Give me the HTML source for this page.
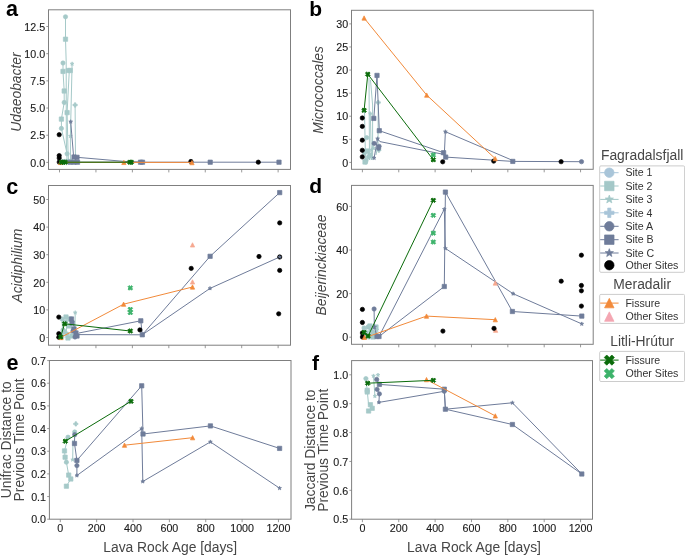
<!DOCTYPE html>
<html><head><meta charset="utf-8"><style>
html,body{margin:0;padding:0;background:#fff;}
svg{display:block;will-change:transform;filter:blur(0.35px);}
text{font-family:"Liberation Sans",sans-serif;}
.tk{font-size:10.7px;fill:#1a1a1a;stroke:#1a1a1a;stroke-width:0.12px;}
.pl{font-size:21px;font-weight:bold;fill:#000;}
.yl{font-size:13.85px;fill:#464646;}
.it{font-style:italic;}
.lt{font-size:13.85px;fill:#464646;}
.lg{font-size:10.6px;fill:#333333;}
</style></head><body>
<svg width="685" height="555" viewBox="0 0 685 555">
<rect width="685" height="555" fill="#fff"/>
<rect x="48.5" y="9.8" width="242" height="159.6" fill="none" stroke="#7f7f7f" stroke-width="1"/>
<line x1="46.3" y1="162.4" x2="48.5" y2="162.4" stroke="#7f7f7f" stroke-width="0.8"/>
<text x="45.1" y="166.63" text-anchor="end" class="tk">0.0</text>
<line x1="46.3" y1="135.22" x2="48.5" y2="135.22" stroke="#7f7f7f" stroke-width="0.8"/>
<text x="45.1" y="139.45" text-anchor="end" class="tk">2.5</text>
<line x1="46.3" y1="108.04" x2="48.5" y2="108.04" stroke="#7f7f7f" stroke-width="0.8"/>
<text x="45.1" y="112.27" text-anchor="end" class="tk">5.0</text>
<line x1="46.3" y1="80.86" x2="48.5" y2="80.86" stroke="#7f7f7f" stroke-width="0.8"/>
<text x="45.1" y="85.09" text-anchor="end" class="tk">7.5</text>
<line x1="46.3" y1="53.68" x2="48.5" y2="53.68" stroke="#7f7f7f" stroke-width="0.8"/>
<text x="45.1" y="57.91" text-anchor="end" class="tk">10.0</text>
<line x1="46.3" y1="26.5" x2="48.5" y2="26.5" stroke="#7f7f7f" stroke-width="0.8"/>
<text x="45.1" y="30.73" text-anchor="end" class="tk">12.5</text>
<line x1="59.5" y1="169.4" x2="59.5" y2="172.4" stroke="#7f7f7f" stroke-width="0.8"/>
<line x1="95.94" y1="169.4" x2="95.94" y2="172.4" stroke="#7f7f7f" stroke-width="0.8"/>
<line x1="132.38" y1="169.4" x2="132.38" y2="172.4" stroke="#7f7f7f" stroke-width="0.8"/>
<line x1="168.82" y1="169.4" x2="168.82" y2="172.4" stroke="#7f7f7f" stroke-width="0.8"/>
<line x1="205.26" y1="169.4" x2="205.26" y2="172.4" stroke="#7f7f7f" stroke-width="0.8"/>
<line x1="241.7" y1="169.4" x2="241.7" y2="172.4" stroke="#7f7f7f" stroke-width="0.8"/>
<line x1="278.14" y1="169.4" x2="278.14" y2="172.4" stroke="#7f7f7f" stroke-width="0.8"/>
<rect x="351.5" y="10.3" width="241.7" height="159" fill="none" stroke="#7f7f7f" stroke-width="1"/>
<line x1="349.3" y1="162.4" x2="351.5" y2="162.4" stroke="#7f7f7f" stroke-width="0.8"/>
<text x="348.1" y="166.63" text-anchor="end" class="tk">0</text>
<line x1="349.3" y1="139.31" x2="351.5" y2="139.31" stroke="#7f7f7f" stroke-width="0.8"/>
<text x="348.1" y="143.55" text-anchor="end" class="tk">5</text>
<line x1="349.3" y1="116.23" x2="351.5" y2="116.23" stroke="#7f7f7f" stroke-width="0.8"/>
<text x="348.1" y="120.46" text-anchor="end" class="tk">10</text>
<line x1="349.3" y1="93.15" x2="351.5" y2="93.15" stroke="#7f7f7f" stroke-width="0.8"/>
<text x="348.1" y="97.38" text-anchor="end" class="tk">15</text>
<line x1="349.3" y1="70.06" x2="351.5" y2="70.06" stroke="#7f7f7f" stroke-width="0.8"/>
<text x="348.1" y="74.29" text-anchor="end" class="tk">20</text>
<line x1="349.3" y1="46.98" x2="351.5" y2="46.98" stroke="#7f7f7f" stroke-width="0.8"/>
<text x="348.1" y="51.21" text-anchor="end" class="tk">25</text>
<line x1="349.3" y1="23.89" x2="351.5" y2="23.89" stroke="#7f7f7f" stroke-width="0.8"/>
<text x="348.1" y="28.12" text-anchor="end" class="tk">30</text>
<line x1="362.4" y1="169.3" x2="362.4" y2="172.3" stroke="#7f7f7f" stroke-width="0.8"/>
<line x1="398.76" y1="169.3" x2="398.76" y2="172.3" stroke="#7f7f7f" stroke-width="0.8"/>
<line x1="435.12" y1="169.3" x2="435.12" y2="172.3" stroke="#7f7f7f" stroke-width="0.8"/>
<line x1="471.48" y1="169.3" x2="471.48" y2="172.3" stroke="#7f7f7f" stroke-width="0.8"/>
<line x1="507.84" y1="169.3" x2="507.84" y2="172.3" stroke="#7f7f7f" stroke-width="0.8"/>
<line x1="544.2" y1="169.3" x2="544.2" y2="172.3" stroke="#7f7f7f" stroke-width="0.8"/>
<line x1="580.56" y1="169.3" x2="580.56" y2="172.3" stroke="#7f7f7f" stroke-width="0.8"/>
<rect x="48.5" y="185.5" width="242" height="159.7" fill="none" stroke="#7f7f7f" stroke-width="1"/>
<line x1="46.3" y1="337.5" x2="48.5" y2="337.5" stroke="#7f7f7f" stroke-width="0.8"/>
<text x="45.1" y="341.73" text-anchor="end" class="tk">0</text>
<line x1="46.3" y1="309.9" x2="48.5" y2="309.9" stroke="#7f7f7f" stroke-width="0.8"/>
<text x="45.1" y="314.13" text-anchor="end" class="tk">10</text>
<line x1="46.3" y1="282.3" x2="48.5" y2="282.3" stroke="#7f7f7f" stroke-width="0.8"/>
<text x="45.1" y="286.53" text-anchor="end" class="tk">20</text>
<line x1="46.3" y1="254.7" x2="48.5" y2="254.7" stroke="#7f7f7f" stroke-width="0.8"/>
<text x="45.1" y="258.93" text-anchor="end" class="tk">30</text>
<line x1="46.3" y1="227.1" x2="48.5" y2="227.1" stroke="#7f7f7f" stroke-width="0.8"/>
<text x="45.1" y="231.33" text-anchor="end" class="tk">40</text>
<line x1="46.3" y1="199.5" x2="48.5" y2="199.5" stroke="#7f7f7f" stroke-width="0.8"/>
<text x="45.1" y="203.73" text-anchor="end" class="tk">50</text>
<line x1="59.5" y1="345.2" x2="59.5" y2="348.2" stroke="#7f7f7f" stroke-width="0.8"/>
<line x1="95.94" y1="345.2" x2="95.94" y2="348.2" stroke="#7f7f7f" stroke-width="0.8"/>
<line x1="132.38" y1="345.2" x2="132.38" y2="348.2" stroke="#7f7f7f" stroke-width="0.8"/>
<line x1="168.82" y1="345.2" x2="168.82" y2="348.2" stroke="#7f7f7f" stroke-width="0.8"/>
<line x1="205.26" y1="345.2" x2="205.26" y2="348.2" stroke="#7f7f7f" stroke-width="0.8"/>
<line x1="241.7" y1="345.2" x2="241.7" y2="348.2" stroke="#7f7f7f" stroke-width="0.8"/>
<line x1="278.14" y1="345.2" x2="278.14" y2="348.2" stroke="#7f7f7f" stroke-width="0.8"/>
<rect x="351.5" y="185.4" width="241.7" height="158.9" fill="none" stroke="#7f7f7f" stroke-width="1"/>
<line x1="349.3" y1="337.2" x2="351.5" y2="337.2" stroke="#7f7f7f" stroke-width="0.8"/>
<text x="348.1" y="341.43" text-anchor="end" class="tk">0</text>
<line x1="349.3" y1="293.6" x2="351.5" y2="293.6" stroke="#7f7f7f" stroke-width="0.8"/>
<text x="348.1" y="297.83" text-anchor="end" class="tk">20</text>
<line x1="349.3" y1="250" x2="351.5" y2="250" stroke="#7f7f7f" stroke-width="0.8"/>
<text x="348.1" y="254.23" text-anchor="end" class="tk">40</text>
<line x1="349.3" y1="206.4" x2="351.5" y2="206.4" stroke="#7f7f7f" stroke-width="0.8"/>
<text x="348.1" y="210.63" text-anchor="end" class="tk">60</text>
<line x1="362.4" y1="344.3" x2="362.4" y2="347.3" stroke="#7f7f7f" stroke-width="0.8"/>
<line x1="398.76" y1="344.3" x2="398.76" y2="347.3" stroke="#7f7f7f" stroke-width="0.8"/>
<line x1="435.12" y1="344.3" x2="435.12" y2="347.3" stroke="#7f7f7f" stroke-width="0.8"/>
<line x1="471.48" y1="344.3" x2="471.48" y2="347.3" stroke="#7f7f7f" stroke-width="0.8"/>
<line x1="507.84" y1="344.3" x2="507.84" y2="347.3" stroke="#7f7f7f" stroke-width="0.8"/>
<line x1="544.2" y1="344.3" x2="544.2" y2="347.3" stroke="#7f7f7f" stroke-width="0.8"/>
<line x1="580.56" y1="344.3" x2="580.56" y2="347.3" stroke="#7f7f7f" stroke-width="0.8"/>
<rect x="49.4" y="360.5" width="241.6" height="158.7" fill="none" stroke="#7f7f7f" stroke-width="1"/>
<line x1="47.2" y1="519.2" x2="49.4" y2="519.2" stroke="#7f7f7f" stroke-width="0.8"/>
<text x="46" y="523.43" text-anchor="end" class="tk">0.0</text>
<line x1="47.2" y1="496.54" x2="49.4" y2="496.54" stroke="#7f7f7f" stroke-width="0.8"/>
<text x="46" y="500.77" text-anchor="end" class="tk">0.1</text>
<line x1="47.2" y1="473.88" x2="49.4" y2="473.88" stroke="#7f7f7f" stroke-width="0.8"/>
<text x="46" y="478.11" text-anchor="end" class="tk">0.2</text>
<line x1="47.2" y1="451.22" x2="49.4" y2="451.22" stroke="#7f7f7f" stroke-width="0.8"/>
<text x="46" y="455.45" text-anchor="end" class="tk">0.3</text>
<line x1="47.2" y1="428.56" x2="49.4" y2="428.56" stroke="#7f7f7f" stroke-width="0.8"/>
<text x="46" y="432.79" text-anchor="end" class="tk">0.4</text>
<line x1="47.2" y1="405.9" x2="49.4" y2="405.9" stroke="#7f7f7f" stroke-width="0.8"/>
<text x="46" y="410.13" text-anchor="end" class="tk">0.5</text>
<line x1="47.2" y1="383.24" x2="49.4" y2="383.24" stroke="#7f7f7f" stroke-width="0.8"/>
<text x="46" y="387.47" text-anchor="end" class="tk">0.6</text>
<line x1="47.2" y1="360.58" x2="49.4" y2="360.58" stroke="#7f7f7f" stroke-width="0.8"/>
<text x="46" y="364.81" text-anchor="end" class="tk">0.7</text>
<line x1="60.3" y1="519.2" x2="60.3" y2="522.2" stroke="#7f7f7f" stroke-width="0.8"/>
<text x="60.3" y="531.6" text-anchor="middle" class="tk">0</text>
<line x1="96.66" y1="519.2" x2="96.66" y2="522.2" stroke="#7f7f7f" stroke-width="0.8"/>
<text x="96.66" y="531.6" text-anchor="middle" class="tk">200</text>
<line x1="133.02" y1="519.2" x2="133.02" y2="522.2" stroke="#7f7f7f" stroke-width="0.8"/>
<text x="133.02" y="531.6" text-anchor="middle" class="tk">400</text>
<line x1="169.38" y1="519.2" x2="169.38" y2="522.2" stroke="#7f7f7f" stroke-width="0.8"/>
<text x="169.38" y="531.6" text-anchor="middle" class="tk">600</text>
<line x1="205.74" y1="519.2" x2="205.74" y2="522.2" stroke="#7f7f7f" stroke-width="0.8"/>
<text x="205.74" y="531.6" text-anchor="middle" class="tk">800</text>
<line x1="242.1" y1="519.2" x2="242.1" y2="522.2" stroke="#7f7f7f" stroke-width="0.8"/>
<text x="242.1" y="531.6" text-anchor="middle" class="tk">1000</text>
<line x1="278.46" y1="519.2" x2="278.46" y2="522.2" stroke="#7f7f7f" stroke-width="0.8"/>
<text x="278.46" y="531.6" text-anchor="middle" class="tk">1200</text>
<rect x="351.6" y="360.6" width="240.9" height="158.6" fill="none" stroke="#7f7f7f" stroke-width="1"/>
<line x1="349.4" y1="519.2" x2="351.6" y2="519.2" stroke="#7f7f7f" stroke-width="0.8"/>
<text x="348.2" y="523.43" text-anchor="end" class="tk">0.5</text>
<line x1="349.4" y1="490.32" x2="351.6" y2="490.32" stroke="#7f7f7f" stroke-width="0.8"/>
<text x="348.2" y="494.55" text-anchor="end" class="tk">0.6</text>
<line x1="349.4" y1="461.44" x2="351.6" y2="461.44" stroke="#7f7f7f" stroke-width="0.8"/>
<text x="348.2" y="465.67" text-anchor="end" class="tk">0.7</text>
<line x1="349.4" y1="432.56" x2="351.6" y2="432.56" stroke="#7f7f7f" stroke-width="0.8"/>
<text x="348.2" y="436.79" text-anchor="end" class="tk">0.8</text>
<line x1="349.4" y1="403.68" x2="351.6" y2="403.68" stroke="#7f7f7f" stroke-width="0.8"/>
<text x="348.2" y="407.91" text-anchor="end" class="tk">0.9</text>
<line x1="349.4" y1="374.8" x2="351.6" y2="374.8" stroke="#7f7f7f" stroke-width="0.8"/>
<text x="348.2" y="379.03" text-anchor="end" class="tk">1.0</text>
<line x1="362.4" y1="519.2" x2="362.4" y2="522.2" stroke="#7f7f7f" stroke-width="0.8"/>
<text x="362.4" y="531.6" text-anchor="middle" class="tk">0</text>
<line x1="398.76" y1="519.2" x2="398.76" y2="522.2" stroke="#7f7f7f" stroke-width="0.8"/>
<text x="398.76" y="531.6" text-anchor="middle" class="tk">200</text>
<line x1="435.12" y1="519.2" x2="435.12" y2="522.2" stroke="#7f7f7f" stroke-width="0.8"/>
<text x="435.12" y="531.6" text-anchor="middle" class="tk">400</text>
<line x1="471.48" y1="519.2" x2="471.48" y2="522.2" stroke="#7f7f7f" stroke-width="0.8"/>
<text x="471.48" y="531.6" text-anchor="middle" class="tk">600</text>
<line x1="507.84" y1="519.2" x2="507.84" y2="522.2" stroke="#7f7f7f" stroke-width="0.8"/>
<text x="507.84" y="531.6" text-anchor="middle" class="tk">800</text>
<line x1="544.2" y1="519.2" x2="544.2" y2="522.2" stroke="#7f7f7f" stroke-width="0.8"/>
<text x="544.2" y="531.6" text-anchor="middle" class="tk">1000</text>
<line x1="580.56" y1="519.2" x2="580.56" y2="522.2" stroke="#7f7f7f" stroke-width="0.8"/>
<text x="580.56" y="531.6" text-anchor="middle" class="tk">1200</text>
<text x="12.1" y="16" text-anchor="middle" class="pl" style="font-size:21.6px">a</text>
<text x="315.6" y="15.5" text-anchor="middle" class="pl" style="font-size:21px">b</text>
<text x="12.2" y="194.4" text-anchor="middle" class="pl" style="font-size:21.6px">c</text>
<text x="315.6" y="193.3" text-anchor="middle" class="pl" style="font-size:21px">d</text>
<text x="12.6" y="370.4" text-anchor="middle" class="pl" style="font-size:21.6px">e</text>
<text x="315.6" y="370.4" text-anchor="middle" class="pl" style="font-size:21px">f</text>
<text transform="translate(21.3 92) rotate(-90)" text-anchor="middle" class="yl it">Udaeobacter</text>
<text transform="translate(322.7 89.9) rotate(-90)" text-anchor="middle" class="yl it">Micrococcales</text>
<text transform="translate(22.2 265.6) rotate(-90)" text-anchor="middle" class="yl it">Acidiphilium</text>
<text transform="translate(325.7 265) rotate(-90)" text-anchor="middle" class="yl it">Beijerinckiaceae</text>
<text transform="translate(11 439.8) rotate(-90)" text-anchor="middle" class="yl">Unifrac Distance to</text>
<text transform="translate(24.2 439.9) rotate(-90)" text-anchor="middle" class="yl">Previous Time Point</text>
<text transform="translate(314.7 450.3) rotate(-90)" text-anchor="middle" class="yl">Jaccard Distance to</text>
<text transform="translate(328.1 450.3) rotate(-90)" text-anchor="middle" class="yl">Previous Time Point</text>
<text x="170.2" y="551.5" text-anchor="middle" class="yl">Lava Rock Age [days]</text>
<text x="474.0" y="551.5" text-anchor="middle" class="yl">Lava Rock Age [days]</text>
<text x="642.15" y="160" text-anchor="middle" class="lt">Fagradalsfjall</text>
<rect x="599.7" y="165.9" width="84.9" height="106.4" rx="1.2" fill="#fff" stroke="#cccccc" stroke-width="1"/>
<line x1="600.2" y1="172.7" x2="618.6" y2="172.7" stroke="#a9c5d9" stroke-width="1"/>
<circle cx="609.3" cy="172.7" r="4.73" fill="#a9c5d9" stroke="#a9c5d9" stroke-width="0.7"/>
<text x="625.4" y="176.4" class="lg">Site 1</text>
<line x1="600.2" y1="186" x2="618.6" y2="186" stroke="#a4c8c8" stroke-width="1"/>
<rect x="604.57" y="181.27" width="9.46" height="9.46" fill="#a4c8c8" stroke="#a4c8c8" stroke-width="0.7" stroke-linejoin="round"/>
<text x="625.4" y="189.7" class="lg">Site 2</text>
<line x1="600.2" y1="199.4" x2="618.6" y2="199.4" stroke="#a4c8c8" stroke-width="1"/>
<polygon points="609.3,195.05 610.37,197.92 613.44,198.06 611.04,199.96 611.86,202.92 609.3,201.23 606.74,202.92 607.56,199.96 605.16,198.06 608.23,197.92" fill="#a4c8c8" stroke="#a4c8c8" stroke-width="0.7" stroke-linejoin="round"/>
<text x="625.4" y="203.1" class="lg">Site 3</text>
<line x1="600.2" y1="212.8" x2="618.6" y2="212.8" stroke="#a9c5d9" stroke-width="1"/>
<polygon points="607.72,208.07 610.88,208.07 610.88,211.22 614.03,211.22 614.03,214.38 610.88,214.38 610.88,217.53 607.72,217.53 607.72,214.38 604.57,214.38 604.57,211.22 607.72,211.22" fill="#a9c5d9" stroke="#a9c5d9" stroke-width="0.7" stroke-linejoin="round"/>
<text x="625.4" y="216.5" class="lg">Site 4</text>
<line x1="600.2" y1="226.3" x2="618.6" y2="226.3" stroke="#6f7c9a" stroke-width="1"/>
<circle cx="609.3" cy="226.3" r="4.73" fill="#6f7c9a" stroke="#6f7c9a" stroke-width="0.7"/>
<text x="625.4" y="230" class="lg">Site A</text>
<line x1="600.2" y1="239.7" x2="618.6" y2="239.7" stroke="#6f7c9a" stroke-width="1"/>
<rect x="604.57" y="234.97" width="9.46" height="9.46" fill="#6f7c9a" stroke="#6f7c9a" stroke-width="0.7" stroke-linejoin="round"/>
<text x="625.4" y="243.4" class="lg">Site B</text>
<line x1="600.2" y1="253" x2="618.6" y2="253" stroke="#6f7c9a" stroke-width="1"/>
<polygon points="609.3,248.65 610.37,251.52 613.44,251.66 611.04,253.56 611.86,256.52 609.3,254.83 606.74,256.52 607.56,253.56 605.16,251.66 608.23,251.52" fill="#6f7c9a" stroke="#6f7c9a" stroke-width="0.7" stroke-linejoin="round"/>
<text x="625.4" y="256.7" class="lg">Site C</text>
<circle cx="609.3" cy="265.2" r="4.73" fill="#000000" stroke="#000000" stroke-width="0.7"/>
<text x="625.4" y="268.9" class="lg">Other Sites</text>
<text x="642.15" y="288.8" text-anchor="middle" class="lt">Meradalir</text>
<rect x="599.7" y="294.4" width="84.9" height="29" rx="1.2" fill="#fff" stroke="#cccccc" stroke-width="1"/>
<line x1="600.2" y1="303.1" x2="618.6" y2="303.1" stroke="#f28a3a" stroke-width="1"/>
<polygon points="609.3,298.37 614.03,307.83 604.57,307.83" fill="#f28a3a" stroke="#f28a3a" stroke-width="0.7" stroke-linejoin="round"/>
<text x="625.4" y="306.8" class="lg">Fissure</text>
<polygon points="609.3,311.87 614.03,321.33 604.57,321.33" fill="#f4a6b2" stroke="#f4a6b2" stroke-width="0.7" stroke-linejoin="round"/>
<text x="625.4" y="320.3" class="lg">Other Sites</text>
<text x="642.15" y="346" text-anchor="middle" class="lt">Litli-Hrútur</text>
<rect x="599.7" y="351.4" width="84.9" height="30.1" rx="1.2" fill="#fff" stroke="#cccccc" stroke-width="1"/>
<line x1="600.2" y1="360.1" x2="618.6" y2="360.1" stroke="#0a6b0a" stroke-width="1"/>
<polygon points="606.75,354.99 609.3,357.55 611.85,354.99 614.41,357.55 611.85,360.1 614.41,362.65 611.85,365.21 609.3,362.65 606.75,365.21 604.19,362.65 606.75,360.1 604.19,357.55" fill="#0a6b0a" stroke="#0a6b0a" stroke-width="0.7" stroke-linejoin="miter"/>
<text x="625.4" y="363.8" class="lg">Fissure</text>
<polygon points="606.75,368.49 609.3,371.05 611.85,368.49 614.41,371.05 611.85,373.6 614.41,376.15 611.85,378.71 609.3,376.15 606.75,378.71 604.19,376.15 606.75,373.6 604.19,371.05" fill="#3db36b" stroke="#3db36b" stroke-width="0.7" stroke-linejoin="miter"/>
<text x="625.4" y="377.3" class="lg">Other Sites</text>
<polyline points="65.5,16.8 65.5,39.2 66.2,62 66.3,140 67,160" fill="none" stroke="#a5c9c8" stroke-width="1.0" stroke-linejoin="round"/>
<polyline points="63,63 63,71.4 64.2,91 64.2,102.5 61.4,119.1 61.4,128.4 67.1,153.8" fill="none" stroke="#a5c9c8" stroke-width="1.0" stroke-linejoin="round"/>
<polyline points="69.3,70.5 67.1,112.6 68,150 68.5,162" fill="none" stroke="#a5c9c8" stroke-width="1.0" stroke-linejoin="round"/>
<polyline points="72.1,63.8 70.4,136.1 70.5,162" fill="none" stroke="#a5c9c8" stroke-width="1.0" stroke-linejoin="round"/>
<polyline points="75.1,105 75.5,160" fill="none" stroke="#a5c9c8" stroke-width="1.0" stroke-linejoin="round"/>
<rect x="59.85" y="159.85" width="4.3" height="4.3" fill="#a5c9c8" stroke="#a5c9c8" stroke-width="0.7" stroke-linejoin="round"/>
<rect x="63.85" y="159.35" width="4.3" height="4.3" fill="#a5c9c8" stroke="#a5c9c8" stroke-width="0.7" stroke-linejoin="round"/>
<rect x="68.35" y="159.35" width="4.3" height="4.3" fill="#a5c9c8" stroke="#a5c9c8" stroke-width="0.7" stroke-linejoin="round"/>
<circle cx="65.5" cy="16.8" r="2.15" fill="#a5c9c8" stroke="#a5c9c8" stroke-width="0.7"/>
<circle cx="63" cy="63" r="2.15" fill="#a5c9c8" stroke="#a5c9c8" stroke-width="0.7"/>
<circle cx="64.2" cy="102.5" r="2.15" fill="#a5c9c8" stroke="#a5c9c8" stroke-width="0.7"/>
<circle cx="61.4" cy="128.4" r="2.15" fill="#a5c9c8" stroke="#a5c9c8" stroke-width="0.7"/>
<circle cx="67.1" cy="153.8" r="2.15" fill="#a5c9c8" stroke="#a5c9c8" stroke-width="0.7"/>
<rect x="63.35" y="37.05" width="4.3" height="4.3" fill="#a5c9c8" stroke="#a5c9c8" stroke-width="0.7" stroke-linejoin="round"/>
<rect x="60.85" y="69.25" width="4.3" height="4.3" fill="#a5c9c8" stroke="#a5c9c8" stroke-width="0.7" stroke-linejoin="round"/>
<rect x="66.15" y="68.35" width="4.3" height="4.3" fill="#a5c9c8" stroke="#a5c9c8" stroke-width="0.7" stroke-linejoin="round"/>
<rect x="68.15" y="68.35" width="4.3" height="4.3" fill="#a5c9c8" stroke="#a5c9c8" stroke-width="0.7" stroke-linejoin="round"/>
<rect x="62.05" y="88.85" width="4.3" height="4.3" fill="#a5c9c8" stroke="#a5c9c8" stroke-width="0.7" stroke-linejoin="round"/>
<rect x="64.95" y="110.45" width="4.3" height="4.3" fill="#a5c9c8" stroke="#a5c9c8" stroke-width="0.7" stroke-linejoin="round"/>
<rect x="59.25" y="116.95" width="4.3" height="4.3" fill="#a5c9c8" stroke="#a5c9c8" stroke-width="0.7" stroke-linejoin="round"/>
<polygon points="72.1,61.82 72.59,63.13 73.98,63.19 72.89,64.06 73.26,65.4 72.1,64.63 70.94,65.4 71.31,64.06 70.22,63.19 71.61,63.13" fill="#a5c9c8" stroke="#a5c9c8" stroke-width="0.7" stroke-linejoin="round"/>
<polygon points="70.4,134.12 70.89,135.43 72.28,135.49 71.19,136.36 71.56,137.7 70.4,136.93 69.24,137.7 69.61,136.36 68.52,135.49 69.91,135.43" fill="#a5c9c8" stroke="#a5c9c8" stroke-width="0.7" stroke-linejoin="round"/>
<polygon points="74.38,102.85 75.82,102.85 75.82,104.28 77.25,104.28 77.25,105.72 75.82,105.72 75.82,107.15 74.38,107.15 74.38,105.72 72.95,105.72 72.95,104.28 74.38,104.28" fill="#a5c9c8" stroke="#a5c9c8" stroke-width="0.7" stroke-linejoin="round"/>
<polyline points="70.7,121.7 73.6,156.5 77,157.3 124.3,161.4 141.5,162.2" fill="none" stroke="#6f7c9a" stroke-width="1.0" stroke-linejoin="round"/>
<polyline points="70,162.2 279,162.2" fill="none" stroke="#6f7c9a" stroke-width="1.0" stroke-linejoin="round"/>
<polygon points="70.7,119.72 71.19,121.03 72.58,121.09 71.49,121.96 71.86,123.3 70.7,122.53 69.54,123.3 69.91,121.96 68.82,121.09 70.21,121.03" fill="#6f7c9a" stroke="#6f7c9a" stroke-width="0.7" stroke-linejoin="round"/>
<rect x="71.85" y="154.85" width="4.3" height="4.3" fill="#6f7c9a" stroke="#6f7c9a" stroke-width="0.7" stroke-linejoin="round"/>
<rect x="74.85" y="155.15" width="4.3" height="4.3" fill="#6f7c9a" stroke="#6f7c9a" stroke-width="0.7" stroke-linejoin="round"/>
<rect x="67.85" y="160.05" width="4.3" height="4.3" fill="#6f7c9a" stroke="#6f7c9a" stroke-width="0.7" stroke-linejoin="round"/>
<rect x="71.85" y="160.05" width="4.3" height="4.3" fill="#6f7c9a" stroke="#6f7c9a" stroke-width="0.7" stroke-linejoin="round"/>
<rect x="75.35" y="160.05" width="4.3" height="4.3" fill="#6f7c9a" stroke="#6f7c9a" stroke-width="0.7" stroke-linejoin="round"/>
<rect x="138.35" y="160.05" width="4.3" height="4.3" fill="#6f7c9a" stroke="#6f7c9a" stroke-width="0.7" stroke-linejoin="round"/>
<rect x="140.35" y="160.05" width="4.3" height="4.3" fill="#6f7c9a" stroke="#6f7c9a" stroke-width="0.7" stroke-linejoin="round"/>
<rect x="208.05" y="160.05" width="4.3" height="4.3" fill="#6f7c9a" stroke="#6f7c9a" stroke-width="0.7" stroke-linejoin="round"/>
<rect x="276.85" y="160.05" width="4.3" height="4.3" fill="#6f7c9a" stroke="#6f7c9a" stroke-width="0.7" stroke-linejoin="round"/>
<circle cx="59.2" cy="134.7" r="2.15" fill="#000000" stroke="#000000" stroke-width="0.7"/>
<circle cx="59.2" cy="155.6" r="2.15" fill="#000000" stroke="#000000" stroke-width="0.7"/>
<circle cx="59.2" cy="158.1" r="2.15" fill="#000000" stroke="#000000" stroke-width="0.7"/>
<circle cx="59.2" cy="162.1" r="2.15" fill="#000000" stroke="#000000" stroke-width="0.7"/>
<circle cx="190.9" cy="161.5" r="2.15" fill="#000000" stroke="#000000" stroke-width="0.7"/>
<circle cx="258.3" cy="162.2" r="2.15" fill="#000000" stroke="#000000" stroke-width="0.7"/>
<polyline points="60,162.4 123.9,162.4 192,162.4" fill="none" stroke="#f28a3a" stroke-width="1.0" stroke-linejoin="round"/>
<polygon points="60.5,160.25 62.65,164.55 58.35,164.55" fill="#f28a3a" stroke="#f28a3a" stroke-width="0.7" stroke-linejoin="round"/>
<polygon points="123.9,160.25 126.05,164.55 121.75,164.55" fill="#f28a3a" stroke="#f28a3a" stroke-width="0.7" stroke-linejoin="round"/>
<polygon points="192,160.45 194.15,164.75 189.85,164.75" fill="#f28a3a" stroke="#f28a3a" stroke-width="0.7" stroke-linejoin="round"/>
<polyline points="60,162.2 130.4,162.2" fill="none" stroke="#0a6b0a" stroke-width="1.0" stroke-linejoin="round"/>
<polygon points="60.14,159.88 61.3,161.04 62.46,159.88 63.62,161.04 62.46,162.2 63.62,163.36 62.46,164.52 61.3,163.36 60.14,164.52 58.98,163.36 60.14,162.2 58.98,161.04" fill="#0a6b0a" stroke="#0a6b0a" stroke-width="0.88" stroke-linejoin="miter"/>
<polygon points="62.14,159.88 63.3,161.04 64.46,159.88 65.62,161.04 64.46,162.2 65.62,163.36 64.46,164.52 63.3,163.36 62.14,164.52 60.98,163.36 62.14,162.2 60.98,161.04" fill="#0a6b0a" stroke="#0a6b0a" stroke-width="0.88" stroke-linejoin="miter"/>
<polygon points="64.04,159.88 65.2,161.04 66.36,159.88 67.52,161.04 66.36,162.2 67.52,163.36 66.36,164.52 65.2,163.36 64.04,164.52 62.88,163.36 64.04,162.2 62.88,161.04" fill="#0a6b0a" stroke="#0a6b0a" stroke-width="0.88" stroke-linejoin="miter"/>
<polygon points="128.74,159.88 129.9,161.04 131.06,159.88 132.22,161.04 131.06,162.2 132.22,163.36 131.06,164.52 129.9,163.36 128.74,164.52 127.58,163.36 128.74,162.2 127.58,161.04" fill="#0a6b0a" stroke="#0a6b0a" stroke-width="0.88" stroke-linejoin="miter"/>
<polygon points="130.14,159.88 131.3,161.04 132.46,159.88 133.62,161.04 132.46,162.2 133.62,163.36 132.46,164.52 131.3,163.36 130.14,164.52 128.98,163.36 130.14,162.2 128.98,161.04" fill="#0a6b0a" stroke="#0a6b0a" stroke-width="0.88" stroke-linejoin="miter"/>
<polyline points="364.5,112 365.5,160" fill="none" stroke="#a5c9c8" stroke-width="1.0" stroke-linejoin="round"/>
<polyline points="369,78 369.5,160" fill="none" stroke="#a5c9c8" stroke-width="1.0" stroke-linejoin="round"/>
<polyline points="370.5,80 372.6,105 372.6,158" fill="none" stroke="#a5c9c8" stroke-width="1.0" stroke-linejoin="round"/>
<polyline points="370.3,113.6 371.5,160" fill="none" stroke="#a5c9c8" stroke-width="1.0" stroke-linejoin="round"/>
<polyline points="378.2,102.5 378,145 376,155" fill="none" stroke="#a5c9c8" stroke-width="1.0" stroke-linejoin="round"/>
<circle cx="366.7" cy="137.7" r="2.15" fill="#a5c9c8" stroke="#a5c9c8" stroke-width="0.7"/>
<circle cx="364.5" cy="153" r="2.15" fill="#a5c9c8" stroke="#a5c9c8" stroke-width="0.7"/>
<circle cx="366" cy="160.5" r="2.15" fill="#a5c9c8" stroke="#a5c9c8" stroke-width="0.7"/>
<circle cx="368.5" cy="157" r="2.15" fill="#a5c9c8" stroke="#a5c9c8" stroke-width="0.7"/>
<circle cx="365.6" cy="162" r="2.15" fill="#a5c9c8" stroke="#a5c9c8" stroke-width="0.7"/>
<rect x="364.85" y="148.85" width="4.3" height="4.3" fill="#a5c9c8" stroke="#a5c9c8" stroke-width="0.7" stroke-linejoin="round"/>
<rect x="367.85" y="152.85" width="4.3" height="4.3" fill="#a5c9c8" stroke="#a5c9c8" stroke-width="0.7" stroke-linejoin="round"/>
<rect x="362.85" y="159.85" width="4.3" height="4.3" fill="#a5c9c8" stroke="#a5c9c8" stroke-width="0.7" stroke-linejoin="round"/>
<polygon points="370.3,111.62 370.79,112.93 372.18,112.99 371.09,113.86 371.46,115.2 370.3,114.43 369.14,115.2 369.51,113.86 368.42,112.99 369.81,112.93" fill="#a5c9c8" stroke="#a5c9c8" stroke-width="0.7" stroke-linejoin="round"/>
<polygon points="371.5,148.02 371.99,149.33 373.38,149.39 372.29,150.26 372.66,151.6 371.5,150.83 370.34,151.6 370.71,150.26 369.62,149.39 371.01,149.33" fill="#a5c9c8" stroke="#a5c9c8" stroke-width="0.7" stroke-linejoin="round"/>
<polygon points="372,156.02 372.49,157.33 373.88,157.39 372.79,158.26 373.16,159.6 372,158.83 370.84,159.6 371.21,158.26 370.12,157.39 371.51,157.33" fill="#a5c9c8" stroke="#a5c9c8" stroke-width="0.7" stroke-linejoin="round"/>
<polygon points="377.48,100.35 378.92,100.35 378.92,101.78 380.35,101.78 380.35,103.22 378.92,103.22 378.92,104.65 377.48,104.65 377.48,103.22 376.05,103.22 376.05,101.78 377.48,101.78" fill="#a5c9c8" stroke="#a5c9c8" stroke-width="0.7" stroke-linejoin="round"/>
<polygon points="378.08,148.05 379.52,148.05 379.52,149.48 380.95,149.48 380.95,150.92 379.52,150.92 379.52,152.35 378.08,152.35 378.08,150.92 376.65,150.92 376.65,149.48 378.08,149.48" fill="#a5c9c8" stroke="#a5c9c8" stroke-width="0.7" stroke-linejoin="round"/>
<polygon points="373.7,146.12 374.19,147.43 375.58,147.49 374.49,148.36 374.86,149.7 373.7,148.93 372.54,149.7 372.91,148.36 371.82,147.49 373.21,147.43" fill="#a5c9c8" stroke="#a5c9c8" stroke-width="0.7" stroke-linejoin="round"/>
<polyline points="373.8,118.4 377,75.4 379.3,130.7 443.6,152.7 445.7,157.1 512.8,161.4 581.5,161.7" fill="none" stroke="#6f7c9a" stroke-width="1.0" stroke-linejoin="round"/>
<polyline points="374.1,158 377.6,138.7 379.9,141.6 444.3,154.5 445.4,131.7 512.8,160.5" fill="none" stroke="#6f7c9a" stroke-width="1.0" stroke-linejoin="round"/>
<polyline points="374.1,143.4 379.1,146.3" fill="none" stroke="#6f7c9a" stroke-width="1.0" stroke-linejoin="round"/>
<rect x="371.65" y="116.25" width="4.3" height="4.3" fill="#6f7c9a" stroke="#6f7c9a" stroke-width="0.7" stroke-linejoin="round"/>
<rect x="374.85" y="73.25" width="4.3" height="4.3" fill="#6f7c9a" stroke="#6f7c9a" stroke-width="0.7" stroke-linejoin="round"/>
<rect x="377.15" y="128.55" width="4.3" height="4.3" fill="#6f7c9a" stroke="#6f7c9a" stroke-width="0.7" stroke-linejoin="round"/>
<rect x="441.45" y="150.55" width="4.3" height="4.3" fill="#6f7c9a" stroke="#6f7c9a" stroke-width="0.7" stroke-linejoin="round"/>
<rect x="443.55" y="154.95" width="4.3" height="4.3" fill="#6f7c9a" stroke="#6f7c9a" stroke-width="0.7" stroke-linejoin="round"/>
<rect x="510.65" y="159.25" width="4.3" height="4.3" fill="#6f7c9a" stroke="#6f7c9a" stroke-width="0.7" stroke-linejoin="round"/>
<polygon points="374.1,156.02 374.59,157.33 375.98,157.39 374.89,158.26 375.26,159.6 374.1,158.83 372.94,159.6 373.31,158.26 372.22,157.39 373.61,157.33" fill="#6f7c9a" stroke="#6f7c9a" stroke-width="0.7" stroke-linejoin="round"/>
<polygon points="377.6,136.72 378.09,138.03 379.48,138.09 378.39,138.96 378.76,140.3 377.6,139.53 376.44,140.3 376.81,138.96 375.72,138.09 377.11,138.03" fill="#6f7c9a" stroke="#6f7c9a" stroke-width="0.7" stroke-linejoin="round"/>
<polygon points="445.4,129.72 445.89,131.03 447.28,131.09 446.19,131.96 446.56,133.3 445.4,132.53 444.24,133.3 444.61,131.96 443.52,131.09 444.91,131.03" fill="#6f7c9a" stroke="#6f7c9a" stroke-width="0.7" stroke-linejoin="round"/>
<circle cx="374.1" cy="143.4" r="2.15" fill="#6f7c9a" stroke="#6f7c9a" stroke-width="0.7"/>
<circle cx="379.1" cy="146.3" r="2.15" fill="#6f7c9a" stroke="#6f7c9a" stroke-width="0.7"/>
<circle cx="378.6" cy="148.3" r="2.15" fill="#6f7c9a" stroke="#6f7c9a" stroke-width="0.7"/>
<circle cx="581.5" cy="161.7" r="2.15" fill="#6f7c9a" stroke="#6f7c9a" stroke-width="0.7"/>
<circle cx="362.3" cy="118" r="2.15" fill="#000000" stroke="#000000" stroke-width="0.7"/>
<circle cx="362.3" cy="126.4" r="2.15" fill="#000000" stroke="#000000" stroke-width="0.7"/>
<circle cx="362.3" cy="140.2" r="2.15" fill="#000000" stroke="#000000" stroke-width="0.7"/>
<circle cx="362.3" cy="150.3" r="2.15" fill="#000000" stroke="#000000" stroke-width="0.7"/>
<circle cx="362.3" cy="156.9" r="2.15" fill="#000000" stroke="#000000" stroke-width="0.7"/>
<circle cx="442.7" cy="161.8" r="2.15" fill="#000000" stroke="#000000" stroke-width="0.7"/>
<circle cx="493.7" cy="161.1" r="2.15" fill="#000000" stroke="#000000" stroke-width="0.7"/>
<circle cx="561.1" cy="161.7" r="2.15" fill="#000000" stroke="#000000" stroke-width="0.7"/>
<polyline points="364.1,18 426.7,95.1 495.2,158.6" fill="none" stroke="#f28a3a" stroke-width="1.0" stroke-linejoin="round"/>
<polygon points="364.1,15.85 366.25,20.15 361.95,20.15" fill="#f28a3a" stroke="#f28a3a" stroke-width="0.7" stroke-linejoin="round"/>
<polygon points="426.7,92.95 428.85,97.25 424.55,97.25" fill="#f28a3a" stroke="#f28a3a" stroke-width="0.7" stroke-linejoin="round"/>
<polygon points="495.2,156.45 497.35,160.75 493.05,160.75" fill="#f28a3a" stroke="#f28a3a" stroke-width="0.7" stroke-linejoin="round"/>
<polyline points="364.1,110.3 367.8,74.2 433.3,159.8" fill="none" stroke="#0a6b0a" stroke-width="1.0" stroke-linejoin="round"/>
<polygon points="432.14,152.68 433.3,153.84 434.46,152.68 435.62,153.84 434.46,155 435.62,156.16 434.46,157.32 433.3,156.16 432.14,157.32 430.98,156.16 432.14,155 430.98,153.84" fill="#3db36b" stroke="#3db36b" stroke-width="0.88" stroke-linejoin="miter"/>
<polygon points="362.94,107.98 364.1,109.14 365.26,107.98 366.42,109.14 365.26,110.3 366.42,111.46 365.26,112.62 364.1,111.46 362.94,112.62 361.78,111.46 362.94,110.3 361.78,109.14" fill="#0a6b0a" stroke="#0a6b0a" stroke-width="0.88" stroke-linejoin="miter"/>
<polygon points="366.64,71.88 367.8,73.04 368.96,71.88 370.12,73.04 368.96,74.2 370.12,75.36 368.96,76.52 367.8,75.36 366.64,76.52 365.48,75.36 366.64,74.2 365.48,73.04" fill="#0a6b0a" stroke="#0a6b0a" stroke-width="0.88" stroke-linejoin="miter"/>
<polygon points="432.14,157.48 433.3,158.64 434.46,157.48 435.62,158.64 434.46,159.8 435.62,160.96 434.46,162.12 433.3,160.96 432.14,162.12 430.98,160.96 432.14,159.8 430.98,158.64" fill="#0a6b0a" stroke="#0a6b0a" stroke-width="0.88" stroke-linejoin="miter"/>
<polyline points="62,320 63,337" fill="none" stroke="#a5c9c8" stroke-width="1.0" stroke-linejoin="round"/>
<polyline points="67,316 66,338" fill="none" stroke="#a5c9c8" stroke-width="1.0" stroke-linejoin="round"/>
<polyline points="72,318 71,338" fill="none" stroke="#a5c9c8" stroke-width="1.0" stroke-linejoin="round"/>
<polyline points="75.2,312.6 75,330" fill="none" stroke="#a5c9c8" stroke-width="1.0" stroke-linejoin="round"/>
<circle cx="62" cy="319" r="2.15" fill="#a5c9c8" stroke="#a5c9c8" stroke-width="0.7"/>
<circle cx="65.5" cy="322" r="2.15" fill="#a5c9c8" stroke="#a5c9c8" stroke-width="0.7"/>
<circle cx="63" cy="330" r="2.15" fill="#a5c9c8" stroke="#a5c9c8" stroke-width="0.7"/>
<circle cx="67" cy="334" r="2.15" fill="#a5c9c8" stroke="#a5c9c8" stroke-width="0.7"/>
<circle cx="62" cy="337" r="2.15" fill="#a5c9c8" stroke="#a5c9c8" stroke-width="0.7"/>
<rect x="63.85" y="314.85" width="4.3" height="4.3" fill="#a5c9c8" stroke="#a5c9c8" stroke-width="0.7" stroke-linejoin="round"/>
<rect x="67.85" y="316.85" width="4.3" height="4.3" fill="#a5c9c8" stroke="#a5c9c8" stroke-width="0.7" stroke-linejoin="round"/>
<rect x="66.85" y="323.85" width="4.3" height="4.3" fill="#a5c9c8" stroke="#a5c9c8" stroke-width="0.7" stroke-linejoin="round"/>
<rect x="61.85" y="329.85" width="4.3" height="4.3" fill="#a5c9c8" stroke="#a5c9c8" stroke-width="0.7" stroke-linejoin="round"/>
<rect x="65.85" y="335.85" width="4.3" height="4.3" fill="#a5c9c8" stroke="#a5c9c8" stroke-width="0.7" stroke-linejoin="round"/>
<rect x="69.85" y="333.85" width="4.3" height="4.3" fill="#a5c9c8" stroke="#a5c9c8" stroke-width="0.7" stroke-linejoin="round"/>
<polygon points="75.2,310.62 75.69,311.93 77.08,311.99 75.99,312.86 76.36,314.2 75.2,313.43 74.04,314.2 74.41,312.86 73.32,311.99 74.71,311.93" fill="#a5c9c8" stroke="#a5c9c8" stroke-width="0.7" stroke-linejoin="round"/>
<polygon points="73,320.02 73.49,321.33 74.88,321.39 73.79,322.26 74.16,323.6 73,322.83 71.84,323.6 72.21,322.26 71.12,321.39 72.51,321.33" fill="#a5c9c8" stroke="#a5c9c8" stroke-width="0.7" stroke-linejoin="round"/>
<polyline points="72,318 74,326 76,334" fill="none" stroke="#6f7c9a" stroke-width="1.0" stroke-linejoin="round"/>
<rect x="69.35" y="316.85" width="4.3" height="4.3" fill="#6f7c9a" stroke="#6f7c9a" stroke-width="0.7" stroke-linejoin="round"/>
<rect x="69.85" y="320.85" width="4.3" height="4.3" fill="#6f7c9a" stroke="#6f7c9a" stroke-width="0.7" stroke-linejoin="round"/>
<rect x="71.85" y="326.85" width="4.3" height="4.3" fill="#6f7c9a" stroke="#6f7c9a" stroke-width="0.7" stroke-linejoin="round"/>
<rect x="73.85" y="330.85" width="4.3" height="4.3" fill="#6f7c9a" stroke="#6f7c9a" stroke-width="0.7" stroke-linejoin="round"/>
<rect x="74.85" y="333.85" width="4.3" height="4.3" fill="#6f7c9a" stroke="#6f7c9a" stroke-width="0.7" stroke-linejoin="round"/>
<circle cx="73" cy="331" r="2.15" fill="#6f7c9a" stroke="#6f7c9a" stroke-width="0.7"/>
<circle cx="75" cy="337" r="2.15" fill="#6f7c9a" stroke="#6f7c9a" stroke-width="0.7"/>
<polyline points="78.8,333 140.8,320.8 142.3,334.8 210.1,256.3 279.7,192.6" fill="none" stroke="#6f7c9a" stroke-width="1.0" stroke-linejoin="round"/>
<polyline points="78.8,334.6 142.3,334.8 210,288.4 279.7,257" fill="none" stroke="#6f7c9a" stroke-width="1.0" stroke-linejoin="round"/>
<rect x="138.65" y="318.65" width="4.3" height="4.3" fill="#6f7c9a" stroke="#6f7c9a" stroke-width="0.7" stroke-linejoin="round"/>
<rect x="140.15" y="332.65" width="4.3" height="4.3" fill="#6f7c9a" stroke="#6f7c9a" stroke-width="0.7" stroke-linejoin="round"/>
<rect x="207.95" y="254.15" width="4.3" height="4.3" fill="#6f7c9a" stroke="#6f7c9a" stroke-width="0.7" stroke-linejoin="round"/>
<rect x="277.55" y="190.45" width="4.3" height="4.3" fill="#6f7c9a" stroke="#6f7c9a" stroke-width="0.7" stroke-linejoin="round"/>
<polygon points="210,286.42 210.49,287.73 211.88,287.79 210.79,288.66 211.16,290 210,289.23 208.84,290 209.21,288.66 208.12,287.79 209.51,287.73" fill="#6f7c9a" stroke="#6f7c9a" stroke-width="0.7" stroke-linejoin="round"/>
<circle cx="58.8" cy="317.1" r="2.15" fill="#000000" stroke="#000000" stroke-width="0.7"/>
<circle cx="58.8" cy="333.7" r="2.15" fill="#000000" stroke="#000000" stroke-width="0.7"/>
<circle cx="58.8" cy="337.3" r="2.15" fill="#000000" stroke="#000000" stroke-width="0.7"/>
<circle cx="139.9" cy="329.9" r="2.15" fill="#000000" stroke="#000000" stroke-width="0.7"/>
<circle cx="191.2" cy="268.4" r="2.15" fill="#000000" stroke="#000000" stroke-width="0.7"/>
<circle cx="259" cy="256.5" r="2.15" fill="#000000" stroke="#000000" stroke-width="0.7"/>
<circle cx="279.7" cy="222.9" r="2.15" fill="#000000" stroke="#000000" stroke-width="0.7"/>
<circle cx="279.7" cy="257" r="2.15" fill="#000000" stroke="#000000" stroke-width="0.7"/>
<circle cx="279.7" cy="270.4" r="2.15" fill="#000000" stroke="#000000" stroke-width="0.7"/>
<circle cx="278.7" cy="313.8" r="2.15" fill="#000000" stroke="#000000" stroke-width="0.7"/>
<polygon points="279.7,255.42 280.09,256.46 281.2,256.51 280.33,257.21 280.63,258.28 279.7,257.66 278.77,258.28 279.07,257.21 278.2,256.51 279.31,256.46" fill="#6f7c9a" stroke="#6f7c9a" stroke-width="0.7" stroke-linejoin="round"/>
<polyline points="61,337.3 123.6,304.2 192.5,287" fill="none" stroke="#f28a3a" stroke-width="1.0" stroke-linejoin="round"/>
<polygon points="192.5,242.75 194.65,247.05 190.35,247.05" fill="#f6a88f" stroke="#f6a88f" stroke-width="0.7" stroke-linejoin="round"/>
<polygon points="192.5,279.75 194.65,284.05 190.35,284.05" fill="#f6a88f" stroke="#f6a88f" stroke-width="0.7" stroke-linejoin="round"/>
<polygon points="61,335.35 63.15,339.65 58.85,339.65" fill="#f28a3a" stroke="#f28a3a" stroke-width="0.7" stroke-linejoin="round"/>
<polygon points="123.6,302.05 125.75,306.35 121.45,306.35" fill="#f28a3a" stroke="#f28a3a" stroke-width="0.7" stroke-linejoin="round"/>
<polygon points="192.5,284.85 194.65,289.15 190.35,289.15" fill="#f28a3a" stroke="#f28a3a" stroke-width="0.7" stroke-linejoin="round"/>
<polyline points="60.6,336.9 64.6,323.8 130.3,331" fill="none" stroke="#0a6b0a" stroke-width="1.0" stroke-linejoin="round"/>
<polygon points="129.14,285.58 130.3,286.74 131.46,285.58 132.62,286.74 131.46,287.9 132.62,289.06 131.46,290.22 130.3,289.06 129.14,290.22 127.98,289.06 129.14,287.9 127.98,286.74" fill="#3db36b" stroke="#3db36b" stroke-width="0.88" stroke-linejoin="miter"/>
<polygon points="129.14,307.08 130.3,308.24 131.46,307.08 132.62,308.24 131.46,309.4 132.62,310.56 131.46,311.72 130.3,310.56 129.14,311.72 127.98,310.56 129.14,309.4 127.98,308.24" fill="#3db36b" stroke="#3db36b" stroke-width="0.88" stroke-linejoin="miter"/>
<polygon points="129.14,310.28 130.3,311.44 131.46,310.28 132.62,311.44 131.46,312.6 132.62,313.76 131.46,314.92 130.3,313.76 129.14,314.92 127.98,313.76 129.14,312.6 127.98,311.44" fill="#3db36b" stroke="#3db36b" stroke-width="0.88" stroke-linejoin="miter"/>
<polygon points="59.44,334.58 60.6,335.74 61.76,334.58 62.92,335.74 61.76,336.9 62.92,338.06 61.76,339.22 60.6,338.06 59.44,339.22 58.28,338.06 59.44,336.9 58.28,335.74" fill="#0a6b0a" stroke="#0a6b0a" stroke-width="0.88" stroke-linejoin="miter"/>
<polygon points="63.44,321.48 64.6,322.64 65.76,321.48 66.92,322.64 65.76,323.8 66.92,324.96 65.76,326.12 64.6,324.96 63.44,326.12 62.28,324.96 63.44,323.8 62.28,322.64" fill="#0a6b0a" stroke="#0a6b0a" stroke-width="0.88" stroke-linejoin="miter"/>
<polygon points="129.14,328.68 130.3,329.84 131.46,328.68 132.62,329.84 131.46,331 132.62,332.16 131.46,333.32 130.3,332.16 129.14,333.32 127.98,332.16 129.14,331 127.98,329.84" fill="#0a6b0a" stroke="#0a6b0a" stroke-width="0.88" stroke-linejoin="miter"/>
<polyline points="366,328 367,337" fill="none" stroke="#a5c9c8" stroke-width="1.0" stroke-linejoin="round"/>
<polyline points="371,327 371,338" fill="none" stroke="#a5c9c8" stroke-width="1.0" stroke-linejoin="round"/>
<circle cx="364" cy="328" r="2.15" fill="#a5c9c8" stroke="#a5c9c8" stroke-width="0.7"/>
<circle cx="368" cy="327" r="2.15" fill="#a5c9c8" stroke="#a5c9c8" stroke-width="0.7"/>
<circle cx="372" cy="332" r="2.15" fill="#a5c9c8" stroke="#a5c9c8" stroke-width="0.7"/>
<circle cx="369" cy="337" r="2.15" fill="#a5c9c8" stroke="#a5c9c8" stroke-width="0.7"/>
<circle cx="366" cy="334" r="2.15" fill="#a5c9c8" stroke="#a5c9c8" stroke-width="0.7"/>
<circle cx="375" cy="336" r="2.15" fill="#a5c9c8" stroke="#a5c9c8" stroke-width="0.7"/>
<rect x="363.85" y="330.85" width="4.3" height="4.3" fill="#a5c9c8" stroke="#a5c9c8" stroke-width="0.7" stroke-linejoin="round"/>
<rect x="368.85" y="327.85" width="4.3" height="4.3" fill="#a5c9c8" stroke="#a5c9c8" stroke-width="0.7" stroke-linejoin="round"/>
<rect x="372.85" y="330.85" width="4.3" height="4.3" fill="#a5c9c8" stroke="#a5c9c8" stroke-width="0.7" stroke-linejoin="round"/>
<rect x="370.85" y="334.85" width="4.3" height="4.3" fill="#a5c9c8" stroke="#a5c9c8" stroke-width="0.7" stroke-linejoin="round"/>
<rect x="367.85" y="323.85" width="4.3" height="4.3" fill="#a5c9c8" stroke="#a5c9c8" stroke-width="0.7" stroke-linejoin="round"/>
<rect x="373.85" y="324.85" width="4.3" height="4.3" fill="#a5c9c8" stroke="#a5c9c8" stroke-width="0.7" stroke-linejoin="round"/>
<polygon points="377,328.02 377.49,329.33 378.88,329.39 377.79,330.26 378.16,331.6 377,330.83 375.84,331.6 376.21,330.26 375.12,329.39 376.51,329.33" fill="#a5c9c8" stroke="#a5c9c8" stroke-width="0.7" stroke-linejoin="round"/>
<polyline points="374.1,309 374.3,327 377,336.5" fill="none" stroke="#6f7c9a" stroke-width="1.0" stroke-linejoin="round"/>
<circle cx="374.1" cy="309" r="2.15" fill="#6f7c9a" stroke="#6f7c9a" stroke-width="0.7"/>
<polygon points="374.3,324.73 374.86,326.23 376.46,326.3 375.21,327.3 375.64,328.84 374.3,327.96 372.96,328.84 373.39,327.3 372.14,326.3 373.74,326.23" fill="#6f7c9a" stroke="#6f7c9a" stroke-width="0.7" stroke-linejoin="round"/>
<rect x="374.85" y="334.35" width="4.3" height="4.3" fill="#6f7c9a" stroke="#6f7c9a" stroke-width="0.7" stroke-linejoin="round"/>
<rect x="376.85" y="334.35" width="4.3" height="4.3" fill="#6f7c9a" stroke="#6f7c9a" stroke-width="0.7" stroke-linejoin="round"/>
<polyline points="379,336.5 444.3,286.5 445.4,192.1 512.4,311.5 581.8,316.1" fill="none" stroke="#6f7c9a" stroke-width="1.0" stroke-linejoin="round"/>
<polyline points="379,336.5 444.3,209.2 445.4,248.4 513.1,293.7 581.8,323.9" fill="none" stroke="#6f7c9a" stroke-width="1.0" stroke-linejoin="round"/>
<rect x="442.15" y="284.35" width="4.3" height="4.3" fill="#6f7c9a" stroke="#6f7c9a" stroke-width="0.7" stroke-linejoin="round"/>
<rect x="443.25" y="189.95" width="4.3" height="4.3" fill="#6f7c9a" stroke="#6f7c9a" stroke-width="0.7" stroke-linejoin="round"/>
<rect x="510.25" y="309.35" width="4.3" height="4.3" fill="#6f7c9a" stroke="#6f7c9a" stroke-width="0.7" stroke-linejoin="round"/>
<rect x="579.65" y="313.95" width="4.3" height="4.3" fill="#6f7c9a" stroke="#6f7c9a" stroke-width="0.7" stroke-linejoin="round"/>
<polygon points="444.3,207.22 444.79,208.53 446.18,208.59 445.09,209.46 445.46,210.8 444.3,210.03 443.14,210.8 443.51,209.46 442.42,208.59 443.81,208.53" fill="#6f7c9a" stroke="#6f7c9a" stroke-width="0.7" stroke-linejoin="round"/>
<polygon points="445.4,246.42 445.89,247.73 447.28,247.79 446.19,248.66 446.56,250 445.4,249.23 444.24,250 444.61,248.66 443.52,247.79 444.91,247.73" fill="#6f7c9a" stroke="#6f7c9a" stroke-width="0.7" stroke-linejoin="round"/>
<polygon points="513.1,291.72 513.59,293.03 514.98,293.09 513.89,293.96 514.26,295.3 513.1,294.53 511.94,295.3 512.31,293.96 511.22,293.09 512.61,293.03" fill="#6f7c9a" stroke="#6f7c9a" stroke-width="0.7" stroke-linejoin="round"/>
<polygon points="581.8,321.92 582.29,323.23 583.68,323.29 582.59,324.16 582.96,325.5 581.8,324.73 580.64,325.5 581.01,324.16 579.92,323.29 581.31,323.23" fill="#6f7c9a" stroke="#6f7c9a" stroke-width="0.7" stroke-linejoin="round"/>
<polygon points="495.3,280.85 497.45,285.15 493.15,285.15" fill="#f6a88f" stroke="#f6a88f" stroke-width="0.7" stroke-linejoin="round"/>
<polygon points="495.6,328.05 497.75,332.35 493.45,332.35" fill="#f6a88f" stroke="#f6a88f" stroke-width="0.7" stroke-linejoin="round"/>
<circle cx="362.4" cy="309.4" r="2.15" fill="#000000" stroke="#000000" stroke-width="0.7"/>
<circle cx="362.4" cy="322.5" r="2.15" fill="#000000" stroke="#000000" stroke-width="0.7"/>
<circle cx="362.4" cy="333" r="2.15" fill="#000000" stroke="#000000" stroke-width="0.7"/>
<circle cx="362.4" cy="337" r="2.15" fill="#000000" stroke="#000000" stroke-width="0.7"/>
<circle cx="442.9" cy="331.1" r="2.15" fill="#000000" stroke="#000000" stroke-width="0.7"/>
<circle cx="494" cy="328.4" r="2.15" fill="#000000" stroke="#000000" stroke-width="0.7"/>
<circle cx="581.4" cy="255.2" r="2.15" fill="#000000" stroke="#000000" stroke-width="0.7"/>
<circle cx="561.2" cy="281.2" r="2.15" fill="#000000" stroke="#000000" stroke-width="0.7"/>
<circle cx="581.4" cy="285.5" r="2.15" fill="#000000" stroke="#000000" stroke-width="0.7"/>
<circle cx="581.4" cy="290.8" r="2.15" fill="#000000" stroke="#000000" stroke-width="0.7"/>
<circle cx="581.4" cy="306.1" r="2.15" fill="#000000" stroke="#000000" stroke-width="0.7"/>
<polyline points="366,337.3 426.5,316.1 495.3,319.7" fill="none" stroke="#f28a3a" stroke-width="1.0" stroke-linejoin="round"/>
<polygon points="364.5,335.15 366.65,339.45 362.35,339.45" fill="#f28a3a" stroke="#f28a3a" stroke-width="0.7" stroke-linejoin="round"/>
<polygon points="426.5,313.95 428.65,318.25 424.35,318.25" fill="#f28a3a" stroke="#f28a3a" stroke-width="0.7" stroke-linejoin="round"/>
<polygon points="495.3,317.55 497.45,321.85 493.15,321.85" fill="#f28a3a" stroke="#f28a3a" stroke-width="0.7" stroke-linejoin="round"/>
<polyline points="364,332.4 368.1,336 433.3,200.3" fill="none" stroke="#0a6b0a" stroke-width="1.0" stroke-linejoin="round"/>
<polygon points="432.14,212.98 433.3,214.14 434.46,212.98 435.62,214.14 434.46,215.3 435.62,216.46 434.46,217.62 433.3,216.46 432.14,217.62 430.98,216.46 432.14,215.3 430.98,214.14" fill="#3db36b" stroke="#3db36b" stroke-width="0.88" stroke-linejoin="miter"/>
<polygon points="432.14,230.78 433.3,231.94 434.46,230.78 435.62,231.94 434.46,233.1 435.62,234.26 434.46,235.42 433.3,234.26 432.14,235.42 430.98,234.26 432.14,233.1 430.98,231.94" fill="#3db36b" stroke="#3db36b" stroke-width="0.88" stroke-linejoin="miter"/>
<polygon points="432.14,239.68 433.3,240.84 434.46,239.68 435.62,240.84 434.46,242 435.62,243.16 434.46,244.32 433.3,243.16 432.14,244.32 430.98,243.16 432.14,242 430.98,240.84" fill="#3db36b" stroke="#3db36b" stroke-width="0.88" stroke-linejoin="miter"/>
<polygon points="362.84,330.08 364,331.24 365.16,330.08 366.32,331.24 365.16,332.4 366.32,333.56 365.16,334.72 364,333.56 362.84,334.72 361.68,333.56 362.84,332.4 361.68,331.24" fill="#0a6b0a" stroke="#0a6b0a" stroke-width="0.88" stroke-linejoin="miter"/>
<polygon points="366.94,333.68 368.1,334.84 369.26,333.68 370.42,334.84 369.26,336 370.42,337.16 369.26,338.32 368.1,337.16 366.94,338.32 365.78,337.16 366.94,336 365.78,334.84" fill="#0a6b0a" stroke="#0a6b0a" stroke-width="0.88" stroke-linejoin="miter"/>
<polygon points="432.14,197.98 433.3,199.14 434.46,197.98 435.62,199.14 434.46,200.3 435.62,201.46 434.46,202.62 433.3,201.46 432.14,202.62 430.98,201.46 432.14,200.3 430.98,199.14" fill="#0a6b0a" stroke="#0a6b0a" stroke-width="0.88" stroke-linejoin="miter"/>
<polyline points="68,437.2 64.5,450.9 65.1,457.2 66.4,462.2 68.7,475.1 70.8,479 66.4,486.2" fill="none" stroke="#a5c9c8" stroke-width="1.0" stroke-linejoin="round"/>
<polyline points="72.7,459.7 73,440" fill="none" stroke="#a5c9c8" stroke-width="1.0" stroke-linejoin="round"/>
<circle cx="68" cy="437.2" r="2.15" fill="#a5c9c8" stroke="#a5c9c8" stroke-width="0.7"/>
<circle cx="66.4" cy="462.2" r="2.15" fill="#a5c9c8" stroke="#a5c9c8" stroke-width="0.7"/>
<circle cx="74.7" cy="432" r="2.15" fill="#a5c9c8" stroke="#a5c9c8" stroke-width="0.7"/>
<rect x="62.35" y="448.75" width="4.3" height="4.3" fill="#a5c9c8" stroke="#a5c9c8" stroke-width="0.7" stroke-linejoin="round"/>
<rect x="62.95" y="455.05" width="4.3" height="4.3" fill="#a5c9c8" stroke="#a5c9c8" stroke-width="0.7" stroke-linejoin="round"/>
<rect x="66.55" y="472.95" width="4.3" height="4.3" fill="#a5c9c8" stroke="#a5c9c8" stroke-width="0.7" stroke-linejoin="round"/>
<rect x="68.65" y="476.85" width="4.3" height="4.3" fill="#a5c9c8" stroke="#a5c9c8" stroke-width="0.7" stroke-linejoin="round"/>
<rect x="64.25" y="484.05" width="4.3" height="4.3" fill="#a5c9c8" stroke="#a5c9c8" stroke-width="0.7" stroke-linejoin="round"/>
<polygon points="72.7,457.72 73.19,459.03 74.58,459.09 73.49,459.96 73.86,461.3 72.7,460.53 71.54,461.3 71.91,459.96 70.82,459.09 72.21,459.03" fill="#a5c9c8" stroke="#a5c9c8" stroke-width="0.7" stroke-linejoin="round"/>
<polygon points="75.08,421.75 76.52,421.75 76.52,423.18 77.95,423.18 77.95,424.62 76.52,424.62 76.52,426.05 75.08,426.05 75.08,424.62 73.65,424.62 73.65,423.18 75.08,423.18" fill="#a5c9c8" stroke="#a5c9c8" stroke-width="0.7" stroke-linejoin="round"/>
<polyline points="74.7,434.7 74.5,443.5 76.9,460.4 141.7,385.8 143,434 210.4,425.9 279.6,448.4" fill="none" stroke="#6f7c9a" stroke-width="1.0" stroke-linejoin="round"/>
<polyline points="76.9,460.4 76.9,465.6 76.9,475.5 141.7,428.6 142.8,481.5 210.4,441.9 279.6,488.2" fill="none" stroke="#6f7c9a" stroke-width="1.0" stroke-linejoin="round"/>
<circle cx="74.7" cy="434.7" r="2.15" fill="#6f7c9a" stroke="#6f7c9a" stroke-width="0.7"/>
<circle cx="76.9" cy="465.6" r="2.15" fill="#6f7c9a" stroke="#6f7c9a" stroke-width="0.7"/>
<rect x="72.35" y="441.35" width="4.3" height="4.3" fill="#6f7c9a" stroke="#6f7c9a" stroke-width="0.7" stroke-linejoin="round"/>
<rect x="74.75" y="458.25" width="4.3" height="4.3" fill="#6f7c9a" stroke="#6f7c9a" stroke-width="0.7" stroke-linejoin="round"/>
<rect x="139.55" y="383.65" width="4.3" height="4.3" fill="#6f7c9a" stroke="#6f7c9a" stroke-width="0.7" stroke-linejoin="round"/>
<rect x="140.85" y="431.85" width="4.3" height="4.3" fill="#6f7c9a" stroke="#6f7c9a" stroke-width="0.7" stroke-linejoin="round"/>
<rect x="208.25" y="423.75" width="4.3" height="4.3" fill="#6f7c9a" stroke="#6f7c9a" stroke-width="0.7" stroke-linejoin="round"/>
<rect x="277.45" y="446.25" width="4.3" height="4.3" fill="#6f7c9a" stroke="#6f7c9a" stroke-width="0.7" stroke-linejoin="round"/>
<polygon points="76.9,473.52 77.39,474.83 78.78,474.89 77.69,475.76 78.06,477.1 76.9,476.33 75.74,477.1 76.11,475.76 75.02,474.89 76.41,474.83" fill="#6f7c9a" stroke="#6f7c9a" stroke-width="0.7" stroke-linejoin="round"/>
<polygon points="141.7,426.62 142.19,427.93 143.58,427.99 142.49,428.86 142.86,430.2 141.7,429.43 140.54,430.2 140.91,428.86 139.82,427.99 141.21,427.93" fill="#6f7c9a" stroke="#6f7c9a" stroke-width="0.7" stroke-linejoin="round"/>
<polygon points="142.8,479.52 143.29,480.83 144.68,480.89 143.59,481.76 143.96,483.1 142.8,482.33 141.64,483.1 142.01,481.76 140.92,480.89 142.31,480.83" fill="#6f7c9a" stroke="#6f7c9a" stroke-width="0.7" stroke-linejoin="round"/>
<polygon points="210.4,439.92 210.89,441.23 212.28,441.29 211.19,442.16 211.56,443.5 210.4,442.73 209.24,443.5 209.61,442.16 208.52,441.29 209.91,441.23" fill="#6f7c9a" stroke="#6f7c9a" stroke-width="0.7" stroke-linejoin="round"/>
<polygon points="279.6,486.22 280.09,487.53 281.48,487.59 280.39,488.46 280.76,489.8 279.6,489.03 278.44,489.8 278.81,488.46 277.72,487.59 279.11,487.53" fill="#6f7c9a" stroke="#6f7c9a" stroke-width="0.7" stroke-linejoin="round"/>
<polyline points="124.5,445.2 192.6,437.7" fill="none" stroke="#f28a3a" stroke-width="1.0" stroke-linejoin="round"/>
<polygon points="124.5,443.05 126.65,447.35 122.35,447.35" fill="#f28a3a" stroke="#f28a3a" stroke-width="0.7" stroke-linejoin="round"/>
<polygon points="192.6,435.55 194.75,439.85 190.45,439.85" fill="#f28a3a" stroke="#f28a3a" stroke-width="0.7" stroke-linejoin="round"/>
<polyline points="65.3,441.2 131,401.3" fill="none" stroke="#0a6b0a" stroke-width="1.0" stroke-linejoin="round"/>
<polygon points="64.14,438.88 65.3,440.04 66.46,438.88 67.62,440.04 66.46,441.2 67.62,442.36 66.46,443.52 65.3,442.36 64.14,443.52 62.98,442.36 64.14,441.2 62.98,440.04" fill="#0a6b0a" stroke="#0a6b0a" stroke-width="0.88" stroke-linejoin="miter"/>
<polygon points="129.84,398.98 131,400.14 132.16,398.98 133.32,400.14 132.16,401.3 133.32,402.46 132.16,403.62 131,402.46 129.84,403.62 128.68,402.46 129.84,401.3 128.68,400.14" fill="#0a6b0a" stroke="#0a6b0a" stroke-width="0.88" stroke-linejoin="miter"/>
<polyline points="365.9,378.6 367.2,390.3 368.6,405 370.4,404.7 372.2,408.3 368.6,411" fill="none" stroke="#a5c9c8" stroke-width="1.0" stroke-linejoin="round"/>
<polyline points="373.5,375.9 374.9,396.1" fill="none" stroke="#a5c9c8" stroke-width="1.0" stroke-linejoin="round"/>
<circle cx="365.9" cy="378.6" r="2.15" fill="#a5c9c8" stroke="#a5c9c8" stroke-width="0.7"/>
<rect x="365.05" y="388.15" width="4.3" height="4.3" fill="#a5c9c8" stroke="#a5c9c8" stroke-width="0.7" stroke-linejoin="round"/>
<rect x="365.05" y="389.85" width="4.3" height="4.3" fill="#a5c9c8" stroke="#a5c9c8" stroke-width="0.7" stroke-linejoin="round"/>
<rect x="368.25" y="402.55" width="4.3" height="4.3" fill="#a5c9c8" stroke="#a5c9c8" stroke-width="0.7" stroke-linejoin="round"/>
<rect x="370.05" y="406.15" width="4.3" height="4.3" fill="#a5c9c8" stroke="#a5c9c8" stroke-width="0.7" stroke-linejoin="round"/>
<rect x="366.45" y="408.85" width="4.3" height="4.3" fill="#a5c9c8" stroke="#a5c9c8" stroke-width="0.7" stroke-linejoin="round"/>
<polygon points="373.5,373.92 373.99,375.23 375.38,375.29 374.29,376.16 374.66,377.5 373.5,376.73 372.34,377.5 372.71,376.16 371.62,375.29 373.01,375.23" fill="#a5c9c8" stroke="#a5c9c8" stroke-width="0.7" stroke-linejoin="round"/>
<polygon points="378,373.02 378.49,374.33 379.88,374.39 378.79,375.26 379.16,376.6 378,375.83 376.84,376.6 377.21,375.26 376.12,374.39 377.51,374.33" fill="#a5c9c8" stroke="#a5c9c8" stroke-width="0.7" stroke-linejoin="round"/>
<polygon points="374.9,394.12 375.39,395.43 376.78,395.49 375.69,396.36 376.06,397.7 374.9,396.93 373.74,397.7 374.11,396.36 373.02,395.49 374.41,395.43" fill="#a5c9c8" stroke="#a5c9c8" stroke-width="0.7" stroke-linejoin="round"/>
<polyline points="376.7,379.5 379.4,384.4 444.3,389.2 445.4,409.2 512.4,424.5 581.8,474" fill="none" stroke="#6f7c9a" stroke-width="1.0" stroke-linejoin="round"/>
<polyline points="377.1,389.4 379.4,393.9 378.9,402.4 444.3,391.3 445.4,409.2 512.4,402.8 581.8,474" fill="none" stroke="#6f7c9a" stroke-width="1.0" stroke-linejoin="round"/>
<circle cx="376.7" cy="379.5" r="2.15" fill="#6f7c9a" stroke="#6f7c9a" stroke-width="0.7"/>
<circle cx="377.1" cy="389.4" r="2.15" fill="#6f7c9a" stroke="#6f7c9a" stroke-width="0.7"/>
<circle cx="379.4" cy="393.9" r="2.15" fill="#6f7c9a" stroke="#6f7c9a" stroke-width="0.7"/>
<circle cx="444.3" cy="391.3" r="2.15" fill="#6f7c9a" stroke="#6f7c9a" stroke-width="0.7"/>
<rect x="377.25" y="382.25" width="4.3" height="4.3" fill="#6f7c9a" stroke="#6f7c9a" stroke-width="0.7" stroke-linejoin="round"/>
<rect x="442.15" y="387.05" width="4.3" height="4.3" fill="#6f7c9a" stroke="#6f7c9a" stroke-width="0.7" stroke-linejoin="round"/>
<rect x="443.25" y="407.05" width="4.3" height="4.3" fill="#6f7c9a" stroke="#6f7c9a" stroke-width="0.7" stroke-linejoin="round"/>
<rect x="510.25" y="422.35" width="4.3" height="4.3" fill="#6f7c9a" stroke="#6f7c9a" stroke-width="0.7" stroke-linejoin="round"/>
<rect x="579.65" y="471.85" width="4.3" height="4.3" fill="#6f7c9a" stroke="#6f7c9a" stroke-width="0.7" stroke-linejoin="round"/>
<polygon points="378.9,400.42 379.39,401.73 380.78,401.79 379.69,402.66 380.06,404 378.9,403.23 377.74,404 378.11,402.66 377.02,401.79 378.41,401.73" fill="#6f7c9a" stroke="#6f7c9a" stroke-width="0.7" stroke-linejoin="round"/>
<polygon points="512.4,400.82 512.89,402.13 514.28,402.19 513.19,403.06 513.56,404.4 512.4,403.63 511.24,404.4 511.61,403.06 510.52,402.19 511.91,402.13" fill="#6f7c9a" stroke="#6f7c9a" stroke-width="0.7" stroke-linejoin="round"/>
<polyline points="426.5,379.6 495.3,415.9" fill="none" stroke="#f28a3a" stroke-width="1.0" stroke-linejoin="round"/>
<polygon points="426.5,377.45 428.65,381.75 424.35,381.75" fill="#f28a3a" stroke="#f28a3a" stroke-width="0.7" stroke-linejoin="round"/>
<polygon points="495.3,413.75 497.45,418.05 493.15,418.05" fill="#f28a3a" stroke="#f28a3a" stroke-width="0.7" stroke-linejoin="round"/>
<polyline points="367.7,383.2 433.3,380.3" fill="none" stroke="#0a6b0a" stroke-width="1.0" stroke-linejoin="round"/>
<polygon points="366.54,380.88 367.7,382.04 368.86,380.88 370.02,382.04 368.86,383.2 370.02,384.36 368.86,385.52 367.7,384.36 366.54,385.52 365.38,384.36 366.54,383.2 365.38,382.04" fill="#0a6b0a" stroke="#0a6b0a" stroke-width="0.88" stroke-linejoin="miter"/>
<polygon points="432.14,377.98 433.3,379.14 434.46,377.98 435.62,379.14 434.46,380.3 435.62,381.46 434.46,382.62 433.3,381.46 432.14,382.62 430.98,381.46 432.14,380.3 430.98,379.14" fill="#0a6b0a" stroke="#0a6b0a" stroke-width="0.88" stroke-linejoin="miter"/>
</svg>
</body></html>
